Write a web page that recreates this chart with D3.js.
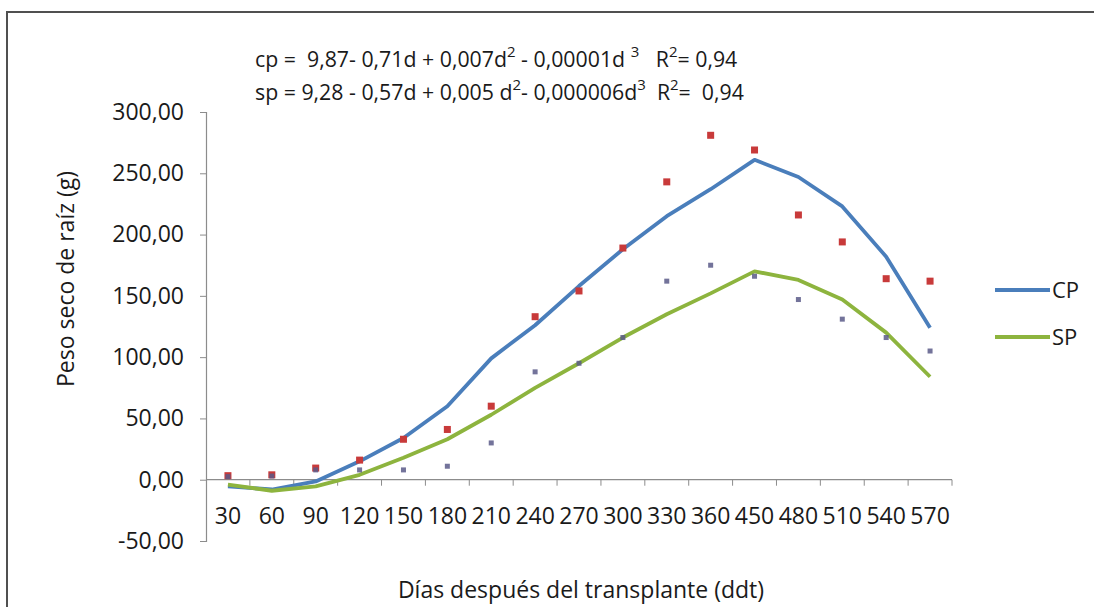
<!DOCTYPE html>
<html>
<head>
<meta charset="utf-8">
<script src="https://cdn.jsdelivr.net/npm/d3@7"></script>
<style>
  html, body { margin: 0; padding: 0; background: #ffffff; }
  svg { display: block; font-family: "Open Sans", "DejaVu Sans", sans-serif; }
</style>
</head>
<body>
<svg id="chart" width="1094" height="607"></svg>
<script>
// Days after transplant (categorical axis)
const days = ["30","60","90","120","150","180","210","240","270","300","330","360","450","480","510","540","570"];

// Fitted curves (g)
const cpFit = [-5.4, -8, -1.4, 15, 34, 60, 99, 126, 158, 188, 215, 237, 261, 247, 223, 182, 124];
const spFit = [-4, -9, -5.4, 4, 18, 33, 53, 75, 95, 116, 135, 152, 170, 163, 147, 120, 84];

// Observed root dry weight (g)
const cpObs = [3.3, 4, 9.5, 16, 33, 41, 60, 133, 154, 189, 243, 281, 269, 216, 194, 164, 162];
const spObs = [2.5, 3, 8, 8, 8, 11, 30, 88, 95, 116, 162, 175, 166, 147, 131, 116, 105];

const yTicks = [-50, 0, 50, 100, 150, 200, 250, 300];

const svg = d3.select("#chart");

// Outer frame
svg.append("rect")
  .attr("x", 7).attr("y", 12)
  .attr("width", 1200).attr("height", 700)
  .attr("fill", "none").attr("stroke", "#505050").attr("stroke-width", 2);

const x = d3.scaleBand().domain(days).range([206, 952]).padding(0);
const y = d3.scaleLinear().domain([-50, 300]).range([541, 112]);
const cx = d => x(d) + x.bandwidth() / 2;
const fmt = v => d3.format(".2f")(v).replace(".", ",").replace("−", "-");

// Y axis
const yAxis = svg.append("g")
  .attr("transform", "translate(206,0)")
  .call(d3.axisLeft(y).tickValues(yTicks).tickSize(6).tickPadding(16).tickFormat(fmt));
yAxis.select(".domain").attr("stroke", "#8c8c8c").attr("stroke-width", 1.2);
yAxis.selectAll(".tick line").attr("stroke", "#8c8c8c");
yAxis.selectAll(".tick text").attr("font-size", 23).attr("fill", "#1a1a1a")
  .attr("font-family", "'Open Sans', sans-serif");

// X axis at zero, ticks between categories
const xg = svg.append("g").attr("transform", `translate(0,${y(0)})`);
xg.append("line")
  .attr("x1", x.range()[0]).attr("x2", x.range()[1])
  .attr("stroke", "#8c8c8c").attr("stroke-width", 1.2);
const bounds = days.map(d => x(d)).concat([x.range()[1]]);
xg.selectAll("line.tk").data(bounds.slice(1)).join("line")
  .attr("class", "tk")
  .attr("x1", d => d).attr("x2", d => d)
  .attr("y1", 0).attr("y2", 6)
  .attr("stroke", "#8c8c8c");
xg.selectAll("text").data(days).join("text")
  .attr("x", d => cx(d)).attr("y", 44)
  .attr("text-anchor", "middle")
  .attr("font-size", 23).attr("fill", "#1a1a1a")
  .text(d => d);

// Axis titles
svg.append("text")
  .attr("x", 581).attr("y", 598)
  .attr("text-anchor", "middle").attr("font-size", 23).attr("fill", "#1a1a1a")
  .text("Días después del transplante (ddt)");
svg.append("text")
  .attr("transform", "translate(74,279) rotate(-90)")
  .attr("text-anchor", "middle").attr("font-size", 23).attr("fill", "#1a1a1a")
  .text("Peso seco de raíz (g)");

// Regression equations
function equation(yPos, parts) {
  const t = svg.append("text").attr("x", 255).attr("y", yPos)
    .attr("font-size", 21.3).attr("fill", "#1a1a1a").attr("xml:space", "preserve");
  parts.forEach(p => {
    const s = t.append("tspan").text(p[0]);
    if (p[1]) s.attr("baseline-shift", "super").attr("font-size", 15);
  });
}
equation(67, [["cp =  9,87- 0,71d + 0,007d"], ["2", true], [" - 0,00001d "], ["3", true], ["   R"], ["2", true], ["= 0,94"]]);
equation(100, [["sp = 9,28 - 0,57d + 0,005 d"], ["2", true], ["- 0,000006d"], ["3", true], ["  R"], ["2", true], ["=  0,94"]]);

// Fitted lines
const line = d3.line().x((d, i) => cx(days[i])).y(d => y(d));
svg.append("path").datum(cpFit).attr("d", line)
  .attr("fill", "none").attr("stroke", "#4a7ebb").attr("stroke-width", 3.8)
  .attr("stroke-linejoin", "round");
svg.append("path").datum(spFit).attr("d", line)
  .attr("fill", "none").attr("stroke", "#8db43e").attr("stroke-width", 3.8)
  .attr("stroke-linejoin", "round");

// Observed points
svg.selectAll("rect.cp").data(cpObs).join("rect")
  .attr("class", "cp")
  .attr("x", (d, i) => cx(days[i]) - 3.5).attr("y", d => y(d) - 3.5)
  .attr("width", 7).attr("height", 7)
  .attr("fill", "#c83a3a");
svg.selectAll("rect.sp").data(spObs).join("rect")
  .attr("class", "sp")
  .attr("x", (d, i) => cx(days[i]) - 2.5).attr("y", d => y(d) - 2.5)
  .attr("width", 5).attr("height", 5)
  .attr("fill", "#5a5a88").attr("opacity", 0.85);

// Legend
const legend = [["CP", "#4a7ebb", 290], ["SP", "#8db43e", 337]];
legend.forEach(([name, color, ly]) => {
  svg.append("line").attr("x1", 995).attr("x2", 1050).attr("y1", ly).attr("y2", ly)
    .attr("stroke", color).attr("stroke-width", 3.8);
  svg.append("text").attr("x", 1052).attr("y", ly + 8)
    .attr("font-size", 22).attr("fill", "#1a1a1a").text(name);
});
</script>
</body>
</html>
